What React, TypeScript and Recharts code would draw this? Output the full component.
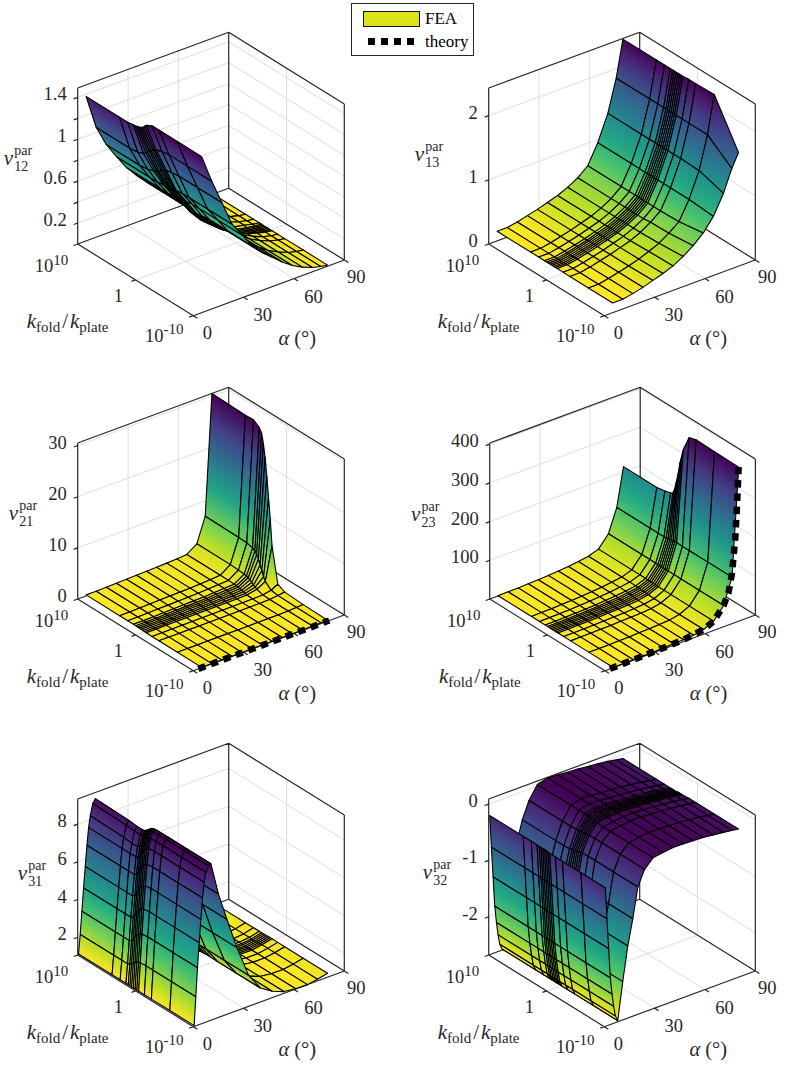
import { ScatterChart, Scatter, XAxis, YAxis } from 'recharts';

// log10(k_fold / k_plate) nodes of the mesh, same for every panel
const logK = [10, 4.2, 2.8, 1.8, 1.4, 1.1, 0.8, 0.5, 0.2, -0.1, -0.4, -1.4, -2.6, -5.8, -10];

const alphaCoarse = [5, 11, 17, 23, 29, 35, 41, 47, 53, 59, 65, 71, 76, 80];
const alpha31 = [0.5, 1.5, 2.5, 3.5, 4.5, 5.5, 6.5, 7.5, 9, 10.5, 15, 20, 26, 33, 40, 47, 54, 61, 68, 74, 80];
const alpha32 = [0.6, 1.6, 2.6, 3.6, 4.6, 5.6, 6.6, 8, 11, 14, 17, 20, 24, 29, 35, 41, 47, 53, 59, 65, 71, 76, 80];

// one row per alpha, one value per logK
const nu12 = [
  [1.38, 1.38, 1.38, 1.39, 1.39, 1.40, 1.40, 1.41, 1.42, 1.44, 1.46, 1.49, 1.49, 1.49, 1.49],
  [1.05, 1.05, 1.06, 1.08, 1.10, 1.12, 1.14, 1.15, 1.17, 1.18, 1.19, 1.21, 1.22, 1.22, 1.22],
  [0.85, 0.85, 0.86, 0.88, 0.89, 0.90, 0.91, 0.93, 0.94, 0.95, 0.96, 0.97, 0.98, 0.98, 0.98],
  [0.70, 0.70, 0.70, 0.71, 0.71, 0.72, 0.72, 0.72, 0.73, 0.73, 0.73, 0.74, 0.74, 0.74, 0.74],
  [0.56, 0.56, 0.56, 0.57, 0.57, 0.58, 0.58, 0.58, 0.59, 0.59, 0.59, 0.60, 0.60, 0.60, 0.60],
  [0.45, 0.45, 0.45, 0.45, 0.44, 0.43, 0.42, 0.42, 0.42, 0.43, 0.44, 0.45, 0.46, 0.46, 0.46],
  [0.35, 0.35, 0.35, 0.34, 0.33, 0.32, 0.31, 0.31, 0.32, 0.33, 0.34, 0.35, 0.36, 0.36, 0.36],
  [0.26, 0.26, 0.26, 0.25, 0.24, 0.23, 0.23, 0.23, 0.24, 0.25, 0.26, 0.27, 0.28, 0.28, 0.28],
  [0.18, 0.18, 0.18, 0.17, 0.16, 0.15, 0.15, 0.15, 0.16, 0.17, 0.18, 0.19, 0.20, 0.20, 0.20],
  [0.12, 0.12, 0.12, 0.11, 0.10, 0.09, 0.09, 0.09, 0.10, 0.11, 0.12, 0.13, 0.13, 0.13, 0.13],
  [0.07, 0.07, 0.07, 0.06, 0.05, 0.05, 0.05, 0.05, 0.05, 0.06, 0.07, 0.08, 0.08, 0.08, 0.08],
  [0.04, 0.04, 0.04, 0.04, 0.03, 0.03, 0.03, 0.03, 0.03, 0.03, 0.04, 0.04, 0.04, 0.04, 0.04],
  [0.02, 0.02, 0.02, 0.02, 0.02, 0.02, 0.02, 0.02, 0.02, 0.02, 0.02, 0.02, 0.02, 0.02, 0.02],
  [0.01, 0.01, 0.01, 0.01, 0.01, 0.01, 0.01, 0.01, 0.01, 0.01, 0.01, 0.01, 0.01, 0.01, 0.01],
];

const nu13 = [
  [0.15, 0.15, 0.15, 0.15, 0.15, 0.15, 0.15, 0.15, 0.15, 0.15, 0.15, 0.15, 0.15, 0.15, 0.15],
  [0.15, 0.15, 0.15, 0.15, 0.15, 0.15, 0.15, 0.15, 0.15, 0.15, 0.15, 0.15, 0.15, 0.15, 0.15],
  [0.18, 0.18, 0.18, 0.18, 0.18, 0.18, 0.18, 0.18, 0.18, 0.18, 0.18, 0.18, 0.18, 0.18, 0.18],
  [0.22, 0.22, 0.22, 0.22, 0.22, 0.22, 0.22, 0.22, 0.22, 0.22, 0.22, 0.22, 0.22, 0.22, 0.22],
  [0.26, 0.26, 0.26, 0.26, 0.26, 0.26, 0.26, 0.26, 0.26, 0.26, 0.26, 0.26, 0.26, 0.26, 0.27],
  [0.31, 0.31, 0.31, 0.31, 0.31, 0.31, 0.31, 0.31, 0.31, 0.31, 0.31, 0.31, 0.31, 0.31, 0.32],
  [0.36, 0.36, 0.36, 0.36, 0.36, 0.36, 0.36, 0.36, 0.36, 0.36, 0.36, 0.36, 0.36, 0.37, 0.38],
  [0.43, 0.43, 0.43, 0.43, 0.43, 0.43, 0.43, 0.43, 0.43, 0.43, 0.43, 0.43, 0.43, 0.44, 0.47],
  [0.52, 0.52, 0.52, 0.52, 0.52, 0.52, 0.52, 0.52, 0.52, 0.52, 0.52, 0.52, 0.53, 0.54, 0.58],
  [0.65, 0.65, 0.65, 0.65, 0.65, 0.65, 0.65, 0.65, 0.65, 0.65, 0.65, 0.65, 0.65, 0.66, 0.72],
  [0.95, 0.95, 0.95, 0.95, 0.95, 0.95, 0.95, 0.95, 0.95, 0.95, 0.95, 0.95, 0.95, 0.95, 0.92],
  [1.35, 1.35, 1.35, 1.35, 1.35, 1.35, 1.35, 1.35, 1.35, 1.35, 1.35, 1.35, 1.35, 1.34, 1.22],
  [1.85, 1.85, 1.85, 1.85, 1.85, 1.85, 1.85, 1.85, 1.85, 1.85, 1.85, 1.85, 1.85, 1.85, 1.56],
  [2.42, 2.42, 2.42, 2.42, 2.42, 2.42, 2.42, 2.42, 2.42, 2.42, 2.42, 2.43, 2.43, 2.44, 1.77],
];

const nu21 = [
  [0.2, 0.2, 0.2, 0.19, 0.18, 0.16, 0.15, 0.13, 0.11, 0.09, 0.07, 0.05, 0.05, 0.05, 0.05],
  [0.2, 0.2, 0.2, 0.19, 0.18, 0.16, 0.15, 0.13, 0.11, 0.09, 0.07, 0.06, 0.05, 0.05, 0.05],
  [0.25, 0.25, 0.24, 0.23, 0.22, 0.2, 0.18, 0.16, 0.13, 0.1, 0.08, 0.06, 0.05, 0.05, 0.05],
  [0.3, 0.3, 0.29, 0.28, 0.26, 0.24, 0.22, 0.18, 0.15, 0.12, 0.09, 0.07, 0.06, 0.06, 0.06],
  [0.35, 0.35, 0.34, 0.33, 0.31, 0.28, 0.25, 0.21, 0.17, 0.13, 0.1, 0.07, 0.06, 0.06, 0.06],
  [0.4, 0.4, 0.39, 0.37, 0.35, 0.32, 0.29, 0.24, 0.2, 0.15, 0.11, 0.08, 0.07, 0.07, 0.07],
  [0.45, 0.45, 0.44, 0.42, 0.4, 0.36, 0.32, 0.27, 0.22, 0.16, 0.12, 0.08, 0.07, 0.07, 0.07],
  [0.5, 0.5, 0.49, 0.47, 0.44, 0.4, 0.36, 0.3, 0.25, 0.18, 0.13, 0.09, 0.08, 0.08, 0.08],
  [0.6, 0.59, 0.58, 0.56, 0.53, 0.48, 0.43, 0.36, 0.29, 0.2, 0.15, 0.1, 0.08, 0.08, 0.08],
  [0.7, 0.69, 0.68, 0.65, 0.62, 0.56, 0.5, 0.42, 0.34, 0.24, 0.17, 0.1, 0.1, 0.1, 0.1],
  [0.85, 0.84, 0.82, 0.79, 0.75, 0.68, 0.6, 0.5, 0.4, 0.28, 0.2, 0.12, 0.1, 0.1, 0.1],
  [2.2, 2.2, 2.1, 2.0, 1.9, 1.8, 1.6, 1.3, 1.0, 0.8, 0.6, 0.2, 0.15, 0.15, 0.15],
  [7.0, 6.9, 6.8, 6.5, 6.2, 5.7, 5.0, 4.1, 3.2, 2.2, 1.5, 0.5, 0.3, 0.2, 0.2],
  [30.5, 30.3, 30.4, 29.6, 28.8, 27, 24.5, 21, 17, 13, 8, 1.2, 0.5, 0.3, 0.2],
];

const nu23 = [
  [0.5, 0.5, 0.5, 0.5, 0.5, 0.5, 0.5, 0.5, 0.5, 0.5, 0.5, 0.5, 0.5, 0.5, 0.5],
  [1, 1, 1, 0.95, 0.9, 0.9, 0.85, 0.85, 0.8, 0.8, 0.75, 0.7, 0.7, 0.7, 0.7],
  [1.5, 1.5, 1.5, 1.4, 1.35, 1.3, 1.25, 1.2, 1.15, 1.1, 1.1, 1, 1, 1, 1],
  [2.5, 2.5, 2.4, 2.3, 2.2, 2.1, 2, 1.9, 1.8, 1.7, 1.6, 1.5, 1.5, 1.5, 1.5],
  [3.5, 3.5, 3.4, 3.2, 3.1, 3, 2.8, 2.7, 2.5, 2.4, 2.3, 2.1, 2, 2, 2],
  [5, 5, 4.9, 4.6, 4.4, 4.2, 4, 3.8, 3.6, 3.4, 3.3, 3.1, 3, 3, 3],
  [7, 7, 6.8, 6.5, 6.2, 5.8, 5.5, 5.2, 5, 4.7, 4.5, 4.1, 4, 4, 4],
  [9, 9, 9, 8.5, 8, 7.5, 7, 6.5, 6.3, 6, 5.7, 5.2, 5, 5, 5],
  [12, 12, 12, 11.5, 11, 10.5, 10, 9.5, 9, 8.5, 8, 7.5, 7, 7, 7],
  [16, 16, 16, 15.5, 15, 15, 14.5, 14, 14, 13, 13, 12, 12, 12, 12],
  [25, 25, 25, 25, 25, 25, 25, 24, 24, 24, 24, 24, 24, 24, 24],
  [55, 55, 55, 55, 55, 55, 55, 55, 55, 55, 55, 55, 55, 55, 55],
  [115, 115, 115, 115, 116, 116, 117, 118, 119, 120, 120, 120, 120, 120, 120],
  [214, 214, 218, 222, 226, 240, 262, 285, 315, 335, 355, 395, 400, 399, 398],
];

const nu31 = [
  [1.1, 1.1, 1.1, 1.1, 1.1, 1.1, 1.1, 1.1, 1.1, 1.1, 1.1, 1.1, 1.1, 1.1, 1.1],
  [2.1, 2.1, 2.1, 2.1, 2.15, 2.22, 2.32, 2.42, 2.5, 2.55, 2.57, 2.6, 2.6, 2.6, 2.6],
  [3.3, 3.3, 3.3, 3.3, 3.38, 3.5, 3.66, 3.82, 3.94, 4.02, 4.06, 4.1, 4.1, 4.1, 4.1],
  [4.5, 4.5, 4.5, 4.5, 4.59, 4.72, 4.9, 5.08, 5.22, 5.31, 5.35, 5.4, 5.4, 5.4, 5.4],
  [5.6, 5.6, 5.6, 5.6, 5.7, 5.85, 6.05, 6.25, 6.4, 6.5, 6.55, 6.6, 6.6, 6.6, 6.6],
  [6.7, 6.7, 6.7, 6.7, 6.8, 6.95, 7.15, 7.35, 7.5, 7.6, 7.65, 7.7, 7.7, 7.7, 7.7],
  [7.6, 7.6, 7.6, 7.6, 7.69, 7.82, 8.0, 8.18, 8.32, 8.41, 8.45, 8.5, 8.5, 8.5, 8.5],
  [8.2, 8.15, 8.1, 8.1, 8.2, 8.3, 8.55, 8.72, 8.84, 8.92, 8.96, 9, 9, 9, 9],
  [8.8, 8.75, 8.7, 8.7, 8.75, 8.85, 9.0, 9.12, 9.2, 9.25, 9.28, 9.3, 9.3, 9.3, 9.3],
  [9, 8.95, 8.9, 8.9, 8.95, 9.02, 9.12, 9.2, 9.28, 9.32, 9.34, 9.35, 9.35, 9.35, 9.35],
  [7, 7, 7, 7, 7.06, 7.15, 7.27, 7.39, 7.48, 7.54, 7.57, 7.6, 7.6, 7.6, 7.6],
  [5.6, 5.6, 5.6, 5.6, 5.65, 5.72, 5.82, 5.92, 6, 6.05, 6.08, 6.1, 6.1, 6.1, 6.1],
  [4, 4, 4, 4, 4.04, 4.1, 4.18, 4.26, 4.32, 4.36, 4.38, 4.4, 4.4, 4.4, 4.4],
  [2.5, 2.5, 2.5, 2.5, 2.52, 2.55, 2.59, 2.63, 2.66, 2.68, 2.69, 2.7, 2.7, 2.7, 2.7],
  [1.7, 1.7, 1.7, 1.7, 1.71, 1.72, 1.74, 1.76, 1.78, 1.79, 1.8, 1.8, 1.8, 1.8, 1.8],
  [1.3, 1.3, 1.3, 1.3, 1.31, 1.32, 1.34, 1.36, 1.38, 1.39, 1.4, 1.4, 1.4, 1.4, 1.4],
  [1.12, 1.12, 1.12, 1.12, 1.12, 1.13, 1.13, 1.14, 1.14, 1.15, 1.15, 1.15, 1.15, 1.15, 1.15],
  [1.06, 1.06, 1.06, 1.06, 1.06, 1.06, 1.06, 1.07, 1.07, 1.07, 1.07, 1.07, 1.07, 1.07, 1.07],
  [1.06, 1.06, 1.06, 1.06, 1.06, 1.06, 1.06, 1.06, 1.06, 1.06, 1.06, 1.06, 1.06, 1.06, 1.06],
  [1.12, 1.12, 1.12, 1.12, 1.12, 1.13, 1.13, 1.14, 1.14, 1.15, 1.15, 1.15, 1.15, 1.15, 1.15],
  [1.25, 1.25, 1.25, 1.25, 1.25, 1.25, 1.26, 1.26, 1.27, 1.27, 1.27, 1.27, 1.27, 1.27, 1.27],
];

const nu32 = [
  [-0.21, -0.21, -0.21, -0.21, -0.21, -0.21, -0.21, -0.21, -0.21, -0.22, -0.22, -0.22, -0.22, -0.22, -0.22],
  [-0.78, -0.78, -0.78, -0.78, -0.78, -0.78, -0.78, -0.78, -0.78, -0.78, -0.78, -0.78, -0.78, -0.78, -0.78],
  [-1.32, -1.32, -1.32, -1.32, -1.32, -1.32, -1.32, -1.32, -1.32, -1.32, -1.32, -1.32, -1.32, -1.32, -1.32],
  [-1.85, -1.85, -1.85, -1.85, -1.85, -1.85, -1.85, -1.85, -1.85, -1.85, -1.85, -1.85, -1.85, -1.85, -1.85],
  [-2.15, -2.15, -2.15, -2.15, -2.15, -2.15, -2.15, -2.15, -2.15, -2.15, -2.15, -2.15, -2.15, -2.15, -2.15],
  [-2.38, -2.38, -2.38, -2.38, -2.38, -2.38, -2.38, -2.38, -2.38, -2.38, -2.38, -2.38, -2.38, -2.38, -2.38],
  [-2.56, -2.56, -2.56, -2.56, -2.56, -2.56, -2.56, -2.56, -2.56, -2.56, -2.56, -2.56, -2.56, -2.56, -2.56],
  [-2.66, -2.66, -2.66, -2.66, -2.66, -2.66, -2.66, -2.66, -2.66, -2.66, -2.66, -2.66, -2.66, -2.66, -2.66],
  [-1.9, -1.9, -1.9, -1.91, -1.93, -1.94, -1.95, -1.96, -1.97, -1.98, -1.99, -2, -2, -2, -2],
  [-1.3, -1.3, -1.3, -1.31, -1.33, -1.34, -1.35, -1.36, -1.37, -1.38, -1.39, -1.4, -1.4, -1.4, -1.4],
  [-0.85, -0.85, -0.85, -0.86, -0.87, -0.88, -0.9, -0.91, -0.92, -0.93, -0.94, -0.95, -0.95, -0.95, -0.95],
  [-0.5, -0.5, -0.5, -0.49, -0.48, -0.47, -0.46, -0.45, -0.44, -0.44, -0.43, -0.42, -0.42, -0.42, -0.42],
  [-0.2, -0.2, -0.2, -0.19, -0.18, -0.18, -0.17, -0.17, -0.16, -0.16, -0.16, -0.15, -0.15, -0.15, -0.15],
  [0.03, 0.03, 0.03, 0.03, 0.02, 0.02, 0.02, 0.01, 0.01, 0.01, 0.01, 0, 0, 0, 0],
  [0.08, 0.08, 0.08, 0.07, 0.07, 0.06, 0.06, 0.05, 0.05, 0.04, 0.04, 0.03, 0.03, 0.03, 0.03],
  [0.07, 0.07, 0.07, 0.07, 0.07, 0.06, 0.06, 0.06, 0.06, 0.05, 0.05, 0.05, 0.05, 0.05, 0.05],
  [0.05, 0.05, 0.05, 0.05, 0.05, 0.05, 0.05, 0.05, 0.05, 0.05, 0.05, 0.05, 0.05, 0.05, 0.05],
  [0.04, 0.04, 0.04, 0.04, 0.04, 0.04, 0.04, 0.04, 0.04, 0.04, 0.04, 0.04, 0.04, 0.04, 0.04],
  [0.02, 0.02, 0.02, 0.02, 0.02, 0.02, 0.02, 0.03, 0.03, 0.03, 0.03, 0.03, 0.03, 0.03, 0.03],
  [0, 0, 0, 0, 0, 0, 0, 0, 0.01, 0.01, 0.01, 0.01, 0.01, 0.01, 0.01],
  [-0.02, -0.02, -0.02, -0.02, -0.02, -0.02, -0.02, -0.02, -0.01, -0.01, -0.01, -0.01, -0.01, -0.01, -0.01],
  [-0.05, -0.05, -0.05, -0.05, -0.05, -0.05, -0.04, -0.04, -0.04, -0.03, -0.03, -0.03, -0.03, -0.03, -0.03],
  [-0.07, -0.07, -0.07, -0.07, -0.07, -0.07, -0.07, -0.06, -0.06, -0.06, -0.06, -0.05, -0.05, -0.05, -0.05],
];

// theory curves along the k = 1e-10 edge
const theory21Alpha = [3, 17, 30, 44, 57, 70, 81];
const theory21 = [0, 0, 0, 0, 0, 0, 0];
const theory23Alpha = [3, 11, 23, 35, 47, 59, 65, 71, 74, 76, 78, 79, 80];
const theory23 = [0, 0.7, 1.5, 3, 5, 12, 24, 55, 85, 130, 220, 300, 398];

const alphaTicks = [0, 30, 60, 90];
const kTicks = [10, 0, -10];

const viridis = ['#440154', '#482475', '#414487', '#355f8d', '#2a788e', '#21918c', '#22a884', '#44bf70', '#7ad151', '#bddf26', '#fde725'];

const panels = [
  { id: '12', alpha: alphaCoarse, z: nu12, zLim: [0, 1.49], zTicks: [0.2, 0.4, 0.6, 0.8, 1, 1.2, 1.4], zLabels: [0.2, 0.6, 1, 1.4], col: 0, row: 0, nu: [-74, -79] },
  { id: '13', alpha: alphaCoarse, z: nu13, zLim: [0, 2.43], zTicks: [0, 1, 2], zLabels: [0, 1, 2], col: 1, row: 0, nu: [-74, -83] },
  { id: '21', alpha: alphaCoarse, z: nu21, zLim: [0, 30.5], zTicks: [0, 10, 20, 30], zLabels: [0, 10, 20, 30], col: 0, row: 1, nu: [-69, -79], theoryA: theory21Alpha, theoryZ: theory21 },
  { id: '23', alpha: alphaCoarse, z: nu23, zLim: [0, 403], zTicks: [100, 200, 300, 400], zLabels: [100, 200, 300, 400], col: 1, row: 1, nu: [-79, -78], theoryA: theory23Alpha, theoryZ: theory23 },
  { id: '31', alpha: alpha31, z: nu31, zLim: [1.06, 9.33], zTicks: [2, 4, 6, 8], zLabels: [2, 4, 6, 8], col: 0, row: 2, nu: [-60, -75] },
  { id: '32', alpha: alpha32, z: nu32, zLim: [-2.68, 0.09], zTicks: [-2, -1, 0], zLabels: [-2, -1, 0], col: 1, row: 2, nu: [-66, -76] },
];

// view of the 3D box, in pixels
const CHART_W = 375;
const CHART_H = 354;
const COL_LEFT = [0, 411.3];
const ROW_TOP = [0, 355, 711];
const ORIGIN = { x: 77.7, y: 244 };
const ALPHA_VEC = { x: 151, y: -55.7 };
const K_VEC = { x: 115.6, y: 71.7 };
const Z_HEIGHT = 156;

const SERIF = '"Liberation Serif", "Times New Roman", serif';
const INK = '#262626';

type Pt = { x: number; y: number };

function hexToRgb(hex: string) {
  return [1, 3, 5].map((i) => parseInt(hex.slice(i, i + 2), 16));
}

// flipped viridis: lowest value yellow, highest purple
function colorAt(z: number, lo: number, hi: number) {
  const t = Math.min(1, Math.max(0, (hi - z) / (hi - lo))) * (viridis.length - 1);
  const i = Math.min(viridis.length - 2, Math.floor(t));
  const a = hexToRgb(viridis[i]);
  const b = hexToRgb(viridis[i + 1]);
  const c = a.map((v, n) => Math.round(v + (b[n] - v) * (t - i)));
  return `rgb(${c[0]},${c[1]},${c[2]})`;
}

function makeProjection(zLim: number[]) {
  return (alpha: number, k: number, z: number) => ({
    x: ORIGIN.x + (ALPHA_VEC.x * alpha) / 90 + (K_VEC.x * (10 - k)) / 20,
    y: ORIGIN.y + (ALPHA_VEC.y * alpha) / 90 + (K_VEC.y * (10 - k)) / 20 - (Z_HEIGHT * (z - zLim[0])) / (zLim[1] - zLim[0]),
  });
}

const noShape = () => null;

// draws a flat list of points as separate two-point segments
function segmentLine(stroke: string, width: number) {
  return ({ points }: { points: Pt[] }) => {
    let d = '';
    for (let i = 0; i + 1 < points.length; i += 2) {
      d += `M${points[i].x} ${points[i].y}L${points[i + 1].x} ${points[i + 1].y}`;
    }
    return <path d={d} fill="none" stroke={stroke} strokeWidth={width} />;
  };
}

// draws a flat list of corners as shaded quads, four points each, back to front
function surfaceLine(id: string, cornerZ: number[], lo: number, hi: number) {
  return ({ points }: { points: Pt[] }) => {
    const quads = [];
    for (let q = 0; q * 4 < points.length; q++) {
      const pts = points.slice(q * 4, q * 4 + 4);
      const zs = cornerZ.slice(q * 4, q * 4 + 4);
      const cx = pts.reduce((s, p) => s + p.x, 0) / 4;
      const cy = pts.reduce((s, p) => s + p.y, 0) / 4;
      const cz = zs.reduce((s, v) => s + v, 0) / 4;
      let sxx = 0, syy = 0, sxy = 0, sxz = 0, syz = 0;
      pts.forEach((p, i) => {
        const dx = p.x - cx;
        const dy = p.y - cy;
        sxx += dx * dx;
        syy += dy * dy;
        sxy += dx * dy;
        sxz += dx * (zs[i] - cz);
        syz += dy * (zs[i] - cz);
      });
      const det = sxx * syy - sxy * sxy;
      const zLo = Math.min(...zs);
      const zHi = Math.max(...zs);
      const pointsAttr = pts.map((p) => `${p.x},${p.y}`).join(' ');
      let fill = colorAt(cz, lo, hi);
      let defs = null;
      if (det > 1e-6 && zHi - zLo > (hi - lo) * 0.002) {
        const a = (sxz * syy - syz * sxy) / det;
        const b = (syz * sxx - sxz * sxy) / det;
        const g2 = a * a + b * b;
        if (g2 > 1e-14) {
          const gradId = `s${id}-${q}`;
          fill = `url(#${gradId})`;
          defs = (
            <linearGradient
              id={gradId}
              gradientUnits="userSpaceOnUse"
              x1={cx + ((zLo - cz) * a) / g2}
              y1={cy + ((zLo - cz) * b) / g2}
              x2={cx + ((zHi - cz) * a) / g2}
              y2={cy + ((zHi - cz) * b) / g2}
            >
              {[0, 0.25, 0.5, 0.75, 1].map((o) => (
                <stop key={o} offset={o} stopColor={colorAt(zLo + o * (zHi - zLo), lo, hi)} />
              ))}
            </linearGradient>
          );
        }
      }
      quads.push(
        <g key={q}>
          {defs}
          <polygon points={pointsAttr} fill={fill} stroke="#000" strokeWidth={1.1} strokeLinejoin="round" />
        </g>
      );
    }
    return <g>{quads}</g>;
  };
}

function LabelShape(props: any) {
  const { cx, cy, payload } = props;
  const { kind, text, anchor } = payload;
  const common = { fontFamily: SERIF, fill: INK, x: cx, y: cy };
  if (kind === 'tick') {
    return <text {...common} fontSize={18.5} textAnchor={anchor}>{text}</text>;
  }
  if (kind === 'pow') {
    return (
      <text {...common} fontSize={18.5}>
        10<tspan dy={-7.5} fontSize={15}>{text}</tspan>
      </text>
    );
  }
  if (kind === 'nu') {
    return (
      <g>
        <text {...common} fontSize={21} fontStyle="italic">ν</text>
        <text fontFamily={SERIF} fill={INK} x={cx + 10.5} y={cy - 10} fontSize={14}>par</text>
        <text fontFamily={SERIF} fill={INK} x={cx + 10.5} y={cy + 5.7} fontSize={14}>{text}</text>
      </g>
    );
  }
  if (kind === 'k') {
    return (
      <text {...common} fontSize={21}>
        <tspan fontStyle="italic">k</tspan>
        <tspan dy={4} fontSize={15}>fold</tspan>
        <tspan dy={-4} dx={2}>/</tspan>
        <tspan dx={2} fontStyle="italic">k</tspan>
        <tspan dy={4} fontSize={15}>plate</tspan>
      </text>
    );
  }
  return (
    <text {...common} fontSize={20.5}>
      <tspan fontStyle="italic">α</tspan>
      <tspan dx={5}>(°)</tspan>
    </text>
  );
}

function Panel({ panel }: { panel: (typeof panels)[number] }) {
  const { id, alpha, z, zLim, zTicks, zLabels, col, row, nu, theoryA, theoryZ } = panel as any;
  const [zMin, zMax] = zLim;
  const project = makeProjection(zLim);

  const grid: Pt[] = [];
  zTicks.forEach((t: number) => {
    grid.push(project(0, 10, t), project(90, 10, t), project(90, 10, t), project(90, -10, t));
  });
  alphaTicks.slice(1, -1).forEach((a) => {
    grid.push(project(a, 10, zMin), project(a, -10, zMin), project(a, 10, zMin), project(a, 10, zMax));
  });
  grid.push(project(0, 0, zMin), project(90, 0, zMin), project(90, 0, zMin), project(90, 0, zMax));

  const box: Pt[] = [
    project(0, 10, zMin), project(0, -10, zMin),
    project(0, -10, zMin), project(90, -10, zMin),
    project(0, 10, zMin), project(90, 10, zMin),
    project(90, 10, zMin), project(90, -10, zMin),
    project(0, 10, zMin), project(0, 10, zMax),
    project(90, 10, zMin), project(90, 10, zMax),
    project(90, -10, zMin), project(90, -10, zMax),
    project(0, 10, zMax), project(90, 10, zMax),
    project(90, 10, zMax), project(90, -10, zMax),
  ];
  zTicks.forEach((t: number) => box.push(project(0, 10, t), project(-2.4, 10, t)));
  alphaTicks.forEach((a) => box.push(project(a, -10, zMin), project(a, -10.7, zMin)));
  kTicks.forEach((k) => box.push(project(0, k, zMin), project(-2.4, k, zMin)));

  // painter's order: far alpha first, then from k = 1e10 towards the front corner
  const corners: { x: number; y: number }[] = [];
  const cornerZ: number[] = [];
  for (let i = alpha.length - 2; i >= 0; i--) {
    for (let j = 0; j < logK.length - 1; j++) {
      [[i, j], [i, j + 1], [i + 1, j + 1], [i + 1, j]].forEach(([r, c]) => {
        corners.push(project(alpha[r], logK[c], z[r][c]));
        cornerZ.push(z[r][c]);
      });
    }
  }
  const flat = z.flat();
  const surface = surfaceLine(id, cornerZ, Math.min(...flat), Math.max(...flat));

  const theory = theoryA
    ? theoryA.map((a: number, i: number) => project(a, -10, theoryZ[i]))
    : null;

  const at = (dx: number, dy: number) => ({ x: ORIGIN.x + dx, y: ORIGIN.y + dy });
  const labels: any[] = [
    { ...at(nu[0], nu[1]), kind: 'nu', text: id },
    { ...at(-43, 28), kind: 'pow', text: '10' },
    { ...at(40.7, 57.7), kind: 'tick', text: '1', anchor: 'middle' },
    { ...at(67.3, 97.7), kind: 'pow', text: '-10' },
    { ...at(-51, 84.3), kind: 'k' },
    { ...at(129.7, 95.3), kind: 'tick', text: '0', anchor: 'middle' },
    { ...at(185, 77), kind: 'tick', text: '30', anchor: 'middle' },
    { ...at(235.7, 59.3), kind: 'tick', text: '60', anchor: 'middle' },
    { ...at(278.6, 39.3), kind: 'tick', text: '90', anchor: 'middle' },
    { ...at(200.7, 101), kind: 'alpha' },
  ];
  zLabels.forEach((t: number) => {
    const p = project(0, 10, t);
    labels.push({ x: p.x - 11, y: p.y + 3, kind: 'tick', text: String(t), anchor: 'end' });
  });

  return (
    <div style={{ position: 'absolute', left: COL_LEFT[col], top: ROW_TOP[row] }}>
      <ScatterChart width={CHART_W} height={CHART_H} margin={{ top: 0, right: 0, bottom: 0, left: 0 }}>
        <XAxis type="number" dataKey="x" domain={[0, CHART_W]} hide />
        <YAxis type="number" dataKey="y" domain={[0, CHART_H]} reversed hide />
        <Scatter data={grid} line={segmentLine('#dedede', 1)} shape={noShape} isAnimationActive={false} />
        <Scatter data={box} line={segmentLine(INK, 1.2)} shape={noShape} isAnimationActive={false} />
        <Scatter data={corners} line={surface} shape={noShape} isAnimationActive={false} />
        {theory && (
          <Scatter
            data={theory}
            line={{ stroke: '#000', strokeWidth: 6.5, strokeDasharray: '7.5 5.8' }}
            shape={noShape}
            isAnimationActive={false}
          />
        )}
        <Scatter data={labels} shape={LabelShape} isAnimationActive={false} />
      </ScatterChart>
    </div>
  );
}

function LegendBox() {
  const text = { position: 'absolute', left: 73, fontFamily: SERIF, fontSize: 17, lineHeight: '20px', color: '#000' } as const;
  return (
    <div style={{ position: 'absolute', left: 351, top: 3, width: 121, height: 51, border: `1px solid ${INK}`, background: '#fff', zIndex: 2 }}>
      <div style={{ position: 'absolute', left: 11, top: 7, width: 55, height: 14, background: '#dde318', border: '1.5px solid #111' }} />
      <div style={{ ...text, top: 5 }}>FEA</div>
      {[16, 29, 42, 55].map((left) => (
        <div key={left} style={{ position: 'absolute', left, top: 34, width: 7, height: 7, background: '#000' }} />
      ))}
      <div style={{ ...text, top: 28 }}>theory</div>
    </div>
  );
}

export default function App() {
  return (
    <div style={{ position: 'absolute', left: 0, top: 0, width: 787, height: 1065, background: '#fff', overflow: 'hidden' }}>
      {panels.map((panel) => (
        <Panel key={panel.id} panel={panel} />
      ))}
      <LegendBox />
    </div>
  );
}
